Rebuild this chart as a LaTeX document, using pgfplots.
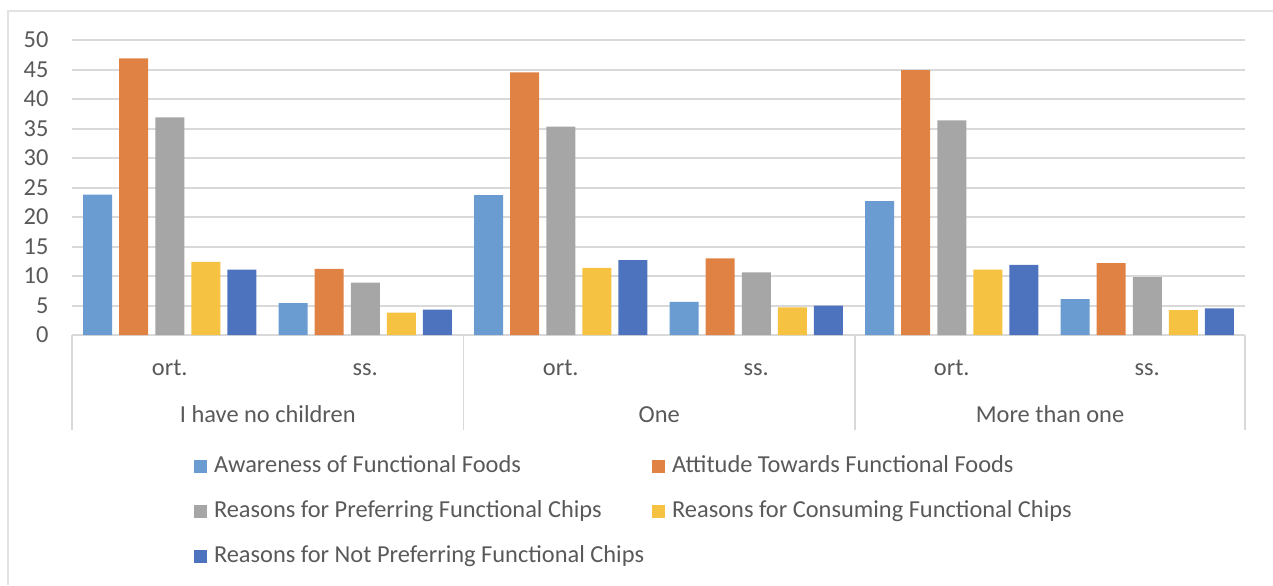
\documentclass[border=0pt]{standalone}
\usepackage{pgfplots}
\pgfplotsset{compat=1.18}
\usepackage{fontspec}
\setmainfont{Carlito}

\definecolor{txt}{HTML}{595959}
\definecolor{gridc}{HTML}{D9D9D9}
\definecolor{framec}{HTML}{E3E3E3}
\definecolor{cA}{HTML}{6A9BD1}
\definecolor{cB}{HTML}{DF8244}
\definecolor{cC}{HTML}{A6A6A6}
\definecolor{cD}{HTML}{F5C242}
\definecolor{cE}{HTML}{4E73BE}

\begin{document}
\fontsize{12.2}{14.6}\selectfont
\begin{tikzpicture}
\useasboundingbox (0,0) rectangle (636.5pt,-292.5pt);
% outer chart frame
\draw[framec, line width=0.8pt] (4pt,-292.5pt) -- (4pt,-5.5pt) -- (636.5pt,-5.5pt);

\begin{axis}[
  at={(36pt,-167.5pt)}, anchor=south west,
  scale only axis, width=586.5pt, height=147.5pt,
  xmin=-0.5, xmax=5.5, ymin=0, ymax=50,
  ybar=3.55pt, bar width=14.5pt,
  axis line style={draw=none},
  major tick length=0pt,
  ytick={0,5,...,50},
  ymajorgrids, grid style={gridc, line width=1pt},
  xtick={0,...,5},
  xticklabels={ort.,ss.,ort.,ss.,ort.,ss.},
  tick label style={text=txt},
  yticklabel style={xshift=-7.5pt},
  xticklabel style={anchor=base, yshift=-20pt},
  /pgf/number format/assume math mode=true,
  legend columns=2,
  legend style={draw=none, fill=none, text=txt,
    at={(axis description cs:0.104,-0.4058)}, anchor=north west,
    inner sep=0pt, outer sep=0pt, row sep=10.5pt,
    nodes={inner sep=0pt, text height=9pt, text depth=3pt},
    /tikz/every odd column/.append style={column sep=3.5pt},
    /tikz/every even column/.append style={column sep=4pt}},
  legend cell align=left,
]
\addplot[fill=cA, draw=none,
  legend image code/.code={\fill[cA] (0pt,-3.25pt) rectangle (6.5pt,3.25pt);}]
  coordinates {(0,23.8) (1,5.4) (2,23.7) (3,5.6) (4,22.7) (5,6.1)};
\addplot[fill=cB, draw=none,
  legend image code/.code={\fill[cB] (0pt,-3.25pt) rectangle (6.5pt,3.25pt);}]
  coordinates {(0,46.9) (1,11.2) (2,44.5) (3,13.0) (4,44.9) (5,12.2)};
\addplot[fill=cC, draw=none,
  legend image code/.code={\fill[cC] (0pt,-3.25pt) rectangle (6.5pt,3.25pt);}]
  coordinates {(0,36.9) (1,8.9) (2,35.3) (3,10.6) (4,36.4) (5,9.8)};
\addplot[fill=cD, draw=none,
  legend image code/.code={\fill[cD] (0pt,-3.25pt) rectangle (6.5pt,3.25pt);}]
  coordinates {(0,12.4) (1,3.8) (2,11.4) (3,4.7) (4,11.1) (5,4.2)};
\addplot[fill=cE, draw=none,
  legend image code/.code={\fill[cE] (0pt,-3.25pt) rectangle (6.5pt,3.25pt);}]
  coordinates {(0,11.1) (1,4.3) (2,12.7) (3,5.0) (4,11.9) (5,4.5)};
\legend{Awareness of Functional Foods, Attitude Towards Functional Foods,
  Reasons for Preferring Functional Chips, Reasons for Consuming Functional Chips,
  Reasons for Not Preferring Functional Chips}
\end{axis}

% category group separators
\foreach \xx in {36pt,231.75pt,427.5pt,622.5pt}
  \draw[gridc, line width=0.8pt] (\xx,-167.5pt) -- (\xx,-215pt);
\node[anchor=base, text=txt] at (133.9pt,-211pt) {I have no children};
\node[anchor=base, text=txt] at (329.6pt,-211pt) {One};
\node[anchor=base, text=txt] at (525pt,-211pt) {More than one};
\end{tikzpicture}
\end{document}
